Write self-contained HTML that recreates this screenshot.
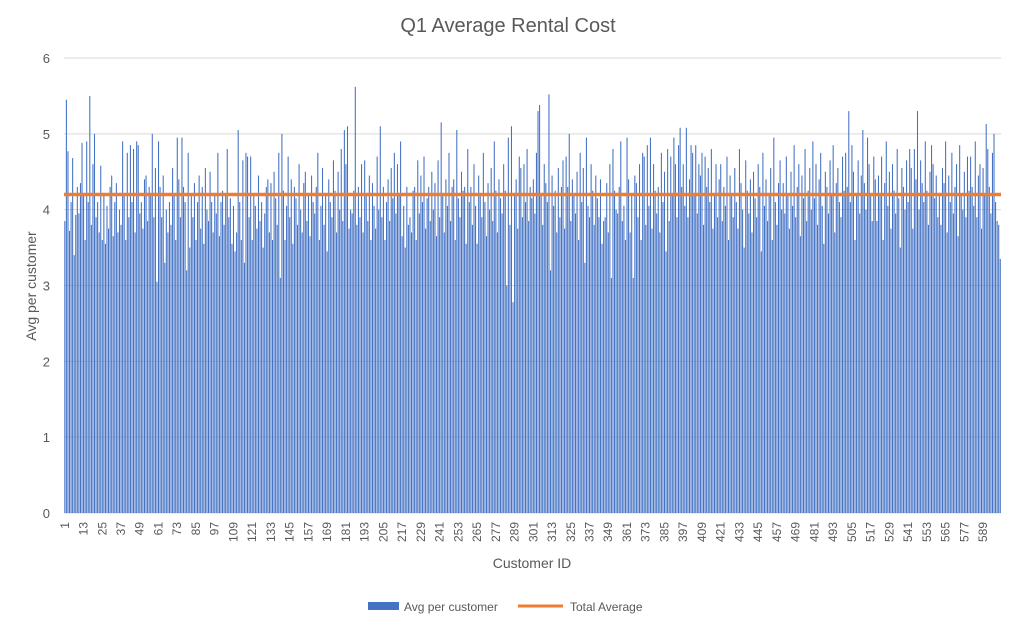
<!DOCTYPE html>
<html><head><meta charset="utf-8"><style>
body{margin:0;background:#fff;}
svg{display:block;font-family:"Liberation Sans",sans-serif;}
</style></head><body>
<svg id="chart" width="1019" height="629">
<text x="508" y="32" text-anchor="middle" font-size="20" fill="#595959">Q1 Average Rental Cost</text>
<text transform="translate(36,286) rotate(-90)" text-anchor="middle" font-size="14" fill="#595959">Avg per customer</text>
<text x="532" y="568" text-anchor="middle" font-size="14" fill="#595959">Customer ID</text>
<g id="grid"></g><g id="bars"></g><g id="xt"></g>
<g>
<rect x="368" y="602" width="31" height="8" fill="#4472C4"/>
<text x="404" y="611" font-size="12" fill="#595959">Avg per customer</text>
<line x1="518" y1="606" x2="563" y2="606" stroke="#ED7D31" stroke-width="3"/>
<text x="570" y="611" font-size="12" fill="#595959">Total Average</text>
</g>
</svg>
<script>
const R1=[3.85,5.45,4.77,3.72,4.1,4.68,3.4,3.93,4.3,3.95,4.35,4.88,4.2,3.6,4.9,4.1,5.5,3.8,4.6,5.0];
const R2=[3.9,4.1,3.7,4.58,3.6,4.2,3.55,4.05,3.75,4.3,4.45,3.65,4.1,4.35,3.7,4.0,3.8,4.9,4.2,3.6];
const R3=[4.75,3.9,4.85,4.1,4.8,3.7,4.9,4.85,3.95,4.1,3.75,4.4,4.45,3.85,4.3,4.2,5.0,3.9,4.55,3.05];
const R4=[4.9,4.3,3.9,4.45,3.3,4.0,3.7,4.1,3.8,4.55,4.2,3.6,4.95,4.4,3.9,4.95,4.3,4.1,3.2,4.75];
const R5=[3.5,4.2,3.9,4.35,3.6,4.1,4.45,3.75,4.3,3.55,4.55,4.0,3.85,4.5,4.1,3.7,4.2,3.95,4.75,3.65];
const R6=[4.1,4.25,3.8,4.2,4.8,3.9,4.15,3.55,4.05,3.45,3.7,5.05,4.1,3.6,4.65,3.3,4.75,4.7,3.9,4.7];
const R7=[3.6,4.2,4.05,3.75,4.45,3.85,4.1,3.5,3.95,4.3,4.4,3.7,4.35,3.6,4.5,4.15,3.8,4.75,3.1,5.0];
const R8=[4.6,5.1,3.75,4.0,3.95,4.25,5.62,3.8,4.3,3.9,4.6,3.7,4.65,4.2,3.85,4.45,3.6,4.35,4.05,3.75];
const R9=[4.7,4.0,5.1,3.9,4.3,3.6,4.1,4.4,3.85,4.55,4.15,4.75,3.95,4.6,4.2,4.9,3.65,4.05,3.5,4.3];
const R10=[3.8,3.9,3.7,4.25,4.3,3.6,4.65,3.95,4.45,4.1,4.7,3.75,4.15,4.3,3.85,4.5,4.0,4.35,3.65,4.65];
const R11=[3.9,5.15,4.2,3.7,4.4,4.05,4.75,3.85,4.3,4.4,3.6,5.05,4.15,3.9,4.5,4.25,4.3,3.55,4.8,4.1];
const R12=[3.95,4.6,4.25,3.0,4.95,3.8,5.1,2.78,4.2,4.4,3.75,4.7,4.55,3.9,4.6,4.1,4.8,3.85,4.3,4.15];
const R13=[4.4,3.95,4.75,5.3,5.38,4.2,3.8,4.6,4.35,4.1,5.52,3.2,4.45,4.05,4.25,3.7,4.55,3.9,4.3,4.65];
const R14=[3.75,4.7,4.3,5.0,3.85,4.4,4.2,3.95,4.5,3.6,4.75,4.1,4.55,3.3,4.95,4.05,3.9,4.6,4.25,3.8];
const R15=[4.45,4.15,3.9,4.4,3.55,3.85,3.9,4.35,3.7,4.6,3.1,4.8,4.25,4.0,3.95,4.3,4.9,3.85,4.05,3.6];
const R16=[4.95,4.4,3.7,4.2,3.1,4.45,4.35,3.9,4.6,3.6,4.75,4.7,3.8,4.85,4.05,4.95,3.75,4.6,4.25,3.95];
const R17=[4.3,3.7,4.75,4.1,4.5,3.45,4.8,3.85,4.7,4.2,4.95,4.6,3.9,4.85,5.08,4.3,4.6,4.05,5.08,3.9];
const R18=[4.4,4.85,4.75,4.2,4.85,3.95,4.6,4.45,4.75,3.8,4.7,4.3,4.55,4.1,4.8,3.75,4.2,4.6,3.9,4.4];
const R19=[4.75,4.3,5.3,4.1,4.85,4.5,3.6,4.2,4.65,3.95,4.45,5.05,4.35,4.0,4.95,4.6,4.2,3.85,4.7,4.4];
const R20=[4.1,4.8,4.55,3.75,4.8,4.4,5.3,4.0,4.65,4.35,4.1,4.9,4.25,3.8,4.5,4.85,4.6,4.15,4.45,3.9];
const R21=[4.7,4.3,4.05,4.9,3.9,4.45,4.6,3.75,4.55,4.2,5.13,4.8,4.3,3.95,4.75,5.0,4.1,3.85,3.8,3.35];
const Rx=[4.25,3.6,4.05,4.7,3.9,4.4,3.55,4.3,4.15,3.8,4.6,4.0,3.7,4.35,4.5,3.85,4.2,3.65,4.45,4.1];
const Ry=[3.95,4.3,4.75,3.6,4.05,4.55,3.8,4.2,3.45,4.4,4.1,3.9,4.65,4.25,3.7,4.5,4.0,4.8,3.85,5.05];
const Rz=[4.3,3.8,4.6,4.05,3.55,4.45,4.2,3.9,4.75,4.1,3.65,4.35,4.0,4.55,3.85,4.9,4.25,3.7,4.4,4.15];
const Rw=[4.6,3.85,4.3,4.05,4.7,3.6,4.45,4.2,3.9,4.55,4.1,3.75,4.8,4.35,4.0,3.5,4.65,4.25,3.95,4.4];
const Rv=[3.7,4.5,4.15,3.9,4.6,4.3,3.45,4.75,4.05,4.4,3.85,4.2,4.55,3.6,4.95,4.1,3.8,4.35,4.65,4.0];
const Ru=[4.35,3.95,4.7,4.2,3.75,4.5,4.05,4.85,3.9,4.3,4.6,3.65,4.45,4.15,4.8,3.85,4.25,4.55,4.0,4.9];
const Rt=[4.15,4.6,3.8,4.4,4.75,4.05,3.55,4.5,4.3,3.95,4.65,4.2,4.85,3.7,4.35,4.55,4.1,3.9,4.7,4.25];
const Rs=[3.85,4.45,4.2,4.7,3.6,4.35,4.9,4.05,4.5,3.75,4.6,4.25,3.95,4.8,4.15,3.5,4.55,4.3,4.0,4.65];
const Rr=[4.2,3.8,4.55,4.35,4.9,3.7,4.45,4.1,4.75,3.95,4.3,4.6,3.65,4.85,4.2,4.0,4.5,3.9,4.7,4.25];
const avgValues=[].concat(R1,R2,R3,R4,R5,R6,R7,Rx,Ry,R8,R9,R10,R11,Rz,R12,R13,R14,R15,R16,R17,R18,Rw,Rv,Ru,Rt,R19,Rs,R20,Rr,R21);
const totalAverage=4.2;
const yTicks=[0,1,2,3,4,5,6];
const labelEvery=12;

const NS='http://www.w3.org/2000/svg';
const L=64,Rg=1001,T=58,B=513,yMax=6;
const n=avgValues.length, step=(Rg-L)/n;
const y=v=>B-(v/yMax)*(B-T);
const x=i=>L+i*step;
function mk(tag,attrs,parent){const e=document.createElementNS(NS,tag);for(const k in attrs)e.setAttribute(k,attrs[k]);parent.appendChild(e);return e;}
const grid=document.getElementById('grid'),bars=document.getElementById('bars'),xt=document.getElementById('xt');
yTicks.forEach(t=>{
  const ln=mk('line',{x1:L,x2:Rg,y1:y(t),y2:y(t),stroke:t===0?'#d9d9d9':'#d9d9d9','stroke-width':1},grid);
  
  
  const tx=mk('text',{x:50,y:y(t)+5,'text-anchor':'end','font-size':13,fill:'#595959'},grid);
  tx.textContent=t;
  
  
});
avgValues.forEach((v,i)=>{
  const r=mk('rect',{x:(x(i)+0.3).toFixed(2),y:y(v).toFixed(2),width:(step*0.68).toFixed(2),height:(B-y(v)).toFixed(2),fill:'#4472C4'},bars);
  
  
  if(i%labelEvery===0){
    const cx=x(i)+step/2+4;
    const tx=mk('text',{transform:`translate(${cx.toFixed(1)},522) rotate(-90)`,'text-anchor':'end','font-size':12,fill:'#595959'},xt);
    tx.textContent=i+1;
    
    
  }
});
const avgLine=mk('line',{x1:L,x2:Rg,y1:y(totalAverage),y2:y(totalAverage),stroke:'#ED7D31','stroke-width':3.5},bars);


</script>
</body></html>
